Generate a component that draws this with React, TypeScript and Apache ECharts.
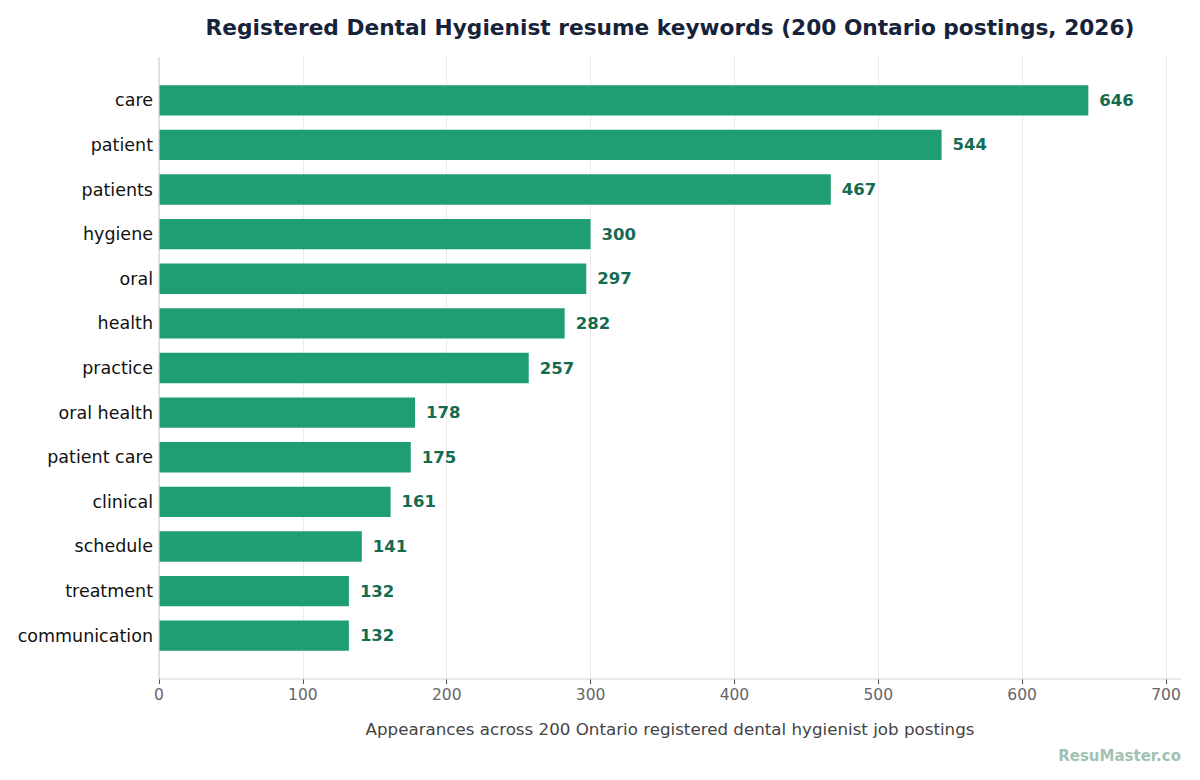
import React, { useEffect, useRef } from 'react';
import * as echarts from 'echarts';

const keywords = [
  'care', 'patient', 'patients', 'hygiene', 'oral', 'health', 'practice',
  'oral health', 'patient care', 'clinical', 'schedule', 'treatment', 'communication',
];
const counts = [646, 544, 467, 300, 297, 282, 257, 178, 175, 161, 141, 132, 132];

const FONT = 'DejaVu Sans';

export default function App() {
  const chartRef = useRef<HTMLDivElement>(null);

  useEffect(() => {
    if (!chartRef.current) return;
    const chart = echarts.init(chartRef.current, null, { renderer: 'svg' });

    const option = {
      animation: false,
      backgroundColor: '#ffffff',
      textStyle: { fontFamily: FONT },
      title: {
        text: 'Registered Dental Hygienist resume keywords (200 Ontario postings, 2026)',
        left: 665,
        textAlign: 'center',
        top: 11,
        textStyle: { fontFamily: FONT, fontSize: 21.7, fontWeight: 'bold', color: '#17233a' },
      },
      grid: [
        // frame grid: gridlines, ticks, x labels
        { left: 159, right: 34, top: 57, bottom: 101 },
        // bar grid: matches matplotlib margins
        { left: 159, right: 34, top: 78, height: 580 },
      ],
      xAxis: [
        {
          gridIndex: 0,
          type: 'value',
          min: 0,
          max: 700,
          interval: 100,
          axisLine: { show: false },
          axisTick: { show: true, length: 5, lineStyle: { color: '#555' } },
          axisLabel: { color: '#666', fontSize: 15.5, margin: 8, fontFamily: FONT },
          splitLine: { show: true, lineStyle: { color: '#ebebeb', width: 1 } },
        },
        {
          gridIndex: 1,
          type: 'value',
          min: 0,
          max: 700,
          show: false,
        },
      ],
      yAxis: [
        {
          gridIndex: 0,
          type: 'value',
          show: false,
        },
        {
          gridIndex: 1,
          type: 'category',
          inverse: true,
          data: keywords,
          axisLine: { show: false },
          axisTick: { show: false },
          axisLabel: { color: '#111', fontSize: 17.5, margin: 6, fontFamily: FONT },
          splitLine: { show: false },
        },
      ],
      graphic: [
        {
          type: 'line',
          shape: { x1: 159, y1: 57, x2: 159, y2: 679 },
          style: { stroke: '#d6d6d6', lineWidth: 1.2 },
          z: 10,
        },
        {
          type: 'line',
          shape: { x1: 159, y1: 679, x2: 1181, y2: 679 },
          style: { stroke: '#d6d6d6', lineWidth: 1.2 },
          z: 10,
        },
        {
          type: 'text',
          x: 670,
          y: 729,
          style: {
            text: 'Appearances across 200 Ontario registered dental hygienist job postings',
            fill: '#444',
            font: `16.7px "${FONT}"`,
            textAlign: 'center',
            textVerticalAlign: 'middle',
          },
        },
        {
          type: 'text',
          right: 19,
          top: 748,
          style: {
            text: 'ResuMaster.co',
            fill: '#9fc2b2',
            font: `bold 15px "${FONT}"`,
          },
        },
      ],
      series: [
        {
          type: 'bar',
          xAxisIndex: 1,
          yAxisIndex: 1,
          data: counts,
          barWidth: '68%',
          itemStyle: { color: '#1f9e76' },
          label: {
            show: true,
            position: 'right',
            distance: 11,
            color: '#146b50',
            fontSize: 16.5,
            fontWeight: 'bold',
            fontFamily: FONT,
          },
        },
      ],
    } as any;

    chart.setOption(option);
    return () => {
      chart.dispose();
    };
  }, []);

  return <div ref={chartRef} style={{ width: 1200, height: 780, margin: -8 }} />;
}
